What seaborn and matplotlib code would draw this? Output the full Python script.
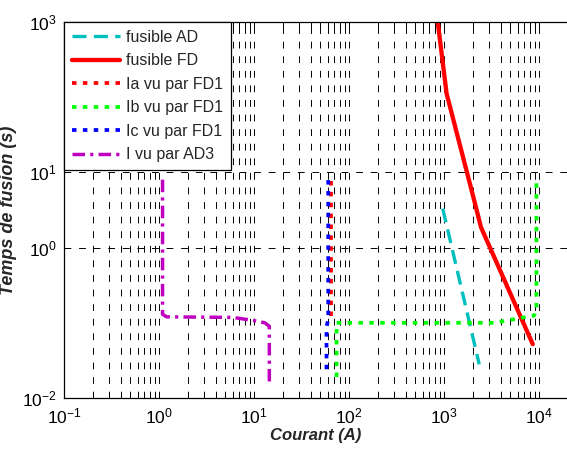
import numpy as np
import pandas as pd
import seaborn as sns
import matplotlib
matplotlib.use('Agg')
from matplotlib import pyplot as plt
from matplotlib.ticker import FixedLocator, NullLocator, LogFormatterSciNotation, NullFormatter

# data (courant in A, temps in s)
ad_i = [970, 2350]
ad_t = [3.3, 0.028]

fd_i = [860, 1065, 2085, 2450, 8600]
fd_t = [1000, 112, 4.2, 1.87, 0.052]

ia_i = [64, 64]
ia_t = [7.6, 0.105]

ib_i = [74, 74, 3400, 8900, 9400, 9400]
ib_t = [0.019, 0.1, 0.1, 0.125, 0.15, 8.0]

ic_i = [60.5, 60.5, 58, 58]
ic_t = [7.9, 0.11, 0.09, 0.02]

i3_i = [1.09, 1.09, 1.2, 6, 10, 13, 14.5, 14.5]
i3_t = [8.0, 0.13, 0.12, 0.118, 0.107, 0.1, 0.09, 0.016]

labels = ['fusible AD', 'fusible FD', 'Ia vu par FD1', 'Ib vu par FD1', 'Ic vu par FD1', 'I vu par AD3']
x_major = [1e-1, 1e0, 1e1, 1e2, 1e3, 1e4]
y_major = [1e-2, 1e0, 1e1, 1e3]

sns.set_style('white')
plt.rcParams['font.family'] = ['Liberation Sans', 'DejaVu Sans']
plt.rcParams['mathtext.fontset'] = 'custom'
plt.rcParams['mathtext.rm'] = 'Liberation Sans'
plt.rcParams['axes.unicode_minus'] = False

fig = plt.figure(figsize=(5.67, 4.49), dpi=100)
ax = fig.add_axes([64 / 567, 51 / 449, 503 / 567, 376 / 449])

series = [
    (ad_i, ad_t, 'c', dict(dashes=(4.2, 2.2)), 2.4),
    (fd_i, fd_t, 'r', dict(linestyle='-'), 3.1),
    (ia_i, ia_t, 'r', dict(dashes=(1.2, 1.7)), 2.7),
    (ib_i, ib_t, 'lime', dict(dashes=(1.2, 1.7)), 2.7),
    (ic_i, ic_t, 'b', dict(dashes=(1.2, 1.7)), 2.7),
    (i3_i, i3_t, 'm', dict(dashes=(3.6, 1.5, 0.9, 1.5)), 2.5),
]
for (xs, ys, col, style, lw), lab in zip(series, labels):
    df = pd.DataFrame({'I': xs, 't': ys})
    sns.lineplot(data=df, x='I', y='t', ax=ax, sort=False, estimator=None,
                 color=col, linewidth=lw, label=lab, **style)

ax.set_xscale('log')
ax.set_yscale('log')
ax.set_xlim(0.1, 10 ** 4.295)
ax.set_ylim(1e-2, 1e3)

minors = [m * 10.0 ** d for d in range(-1, 4) for m in range(2, 10)]
ax.xaxis.set_major_locator(FixedLocator(x_major))
ax.xaxis.set_minor_locator(FixedLocator(minors))
ax.xaxis.set_major_formatter(LogFormatterSciNotation())
ax.xaxis.set_minor_formatter(NullFormatter())
ax.yaxis.set_major_locator(FixedLocator(y_major))
ax.yaxis.set_minor_locator(NullLocator())
ax.yaxis.set_major_formatter(LogFormatterSciNotation())

ax.grid(True, which='both', axis='x', color='black', linewidth=0.7, dashes=(7, 8))
ax.grid(True, which='major', axis='y', color='black', linewidth=0.7, dashes=(7, 8))

ax.tick_params(which='both', direction='in', top=True, bottom=True, left=True, right=False,
               length=4, width=0.7, colors='black', labelsize=12.5)
ax.tick_params(axis='x', pad=6)
ax.tick_params(axis='y', pad=5)
for side in ['left', 'bottom', 'top']:
    ax.spines[side].set_color('black')
    ax.spines[side].set_linewidth(0.9)
ax.spines['right'].set_visible(False)

ax.set_xlabel('Courant (A)', fontsize=12, fontweight='bold', fontstyle='italic', labelpad=1)
ax.set_ylabel('Temps de fusion (s)', fontsize=13, fontweight='bold', fontstyle='italic', labelpad=4)

leg = ax.legend(loc='upper left', bbox_to_anchor=(0, 1), borderaxespad=0, fontsize=11.5,
                fancybox=False, framealpha=1, edgecolor='black', handlelength=3.0,
                handletextpad=0.4, labelspacing=0.53, borderpad=0.5)
leg.get_frame().set_linewidth(0.9)

fig.savefig('out.png', dpi=100, facecolor='white')
